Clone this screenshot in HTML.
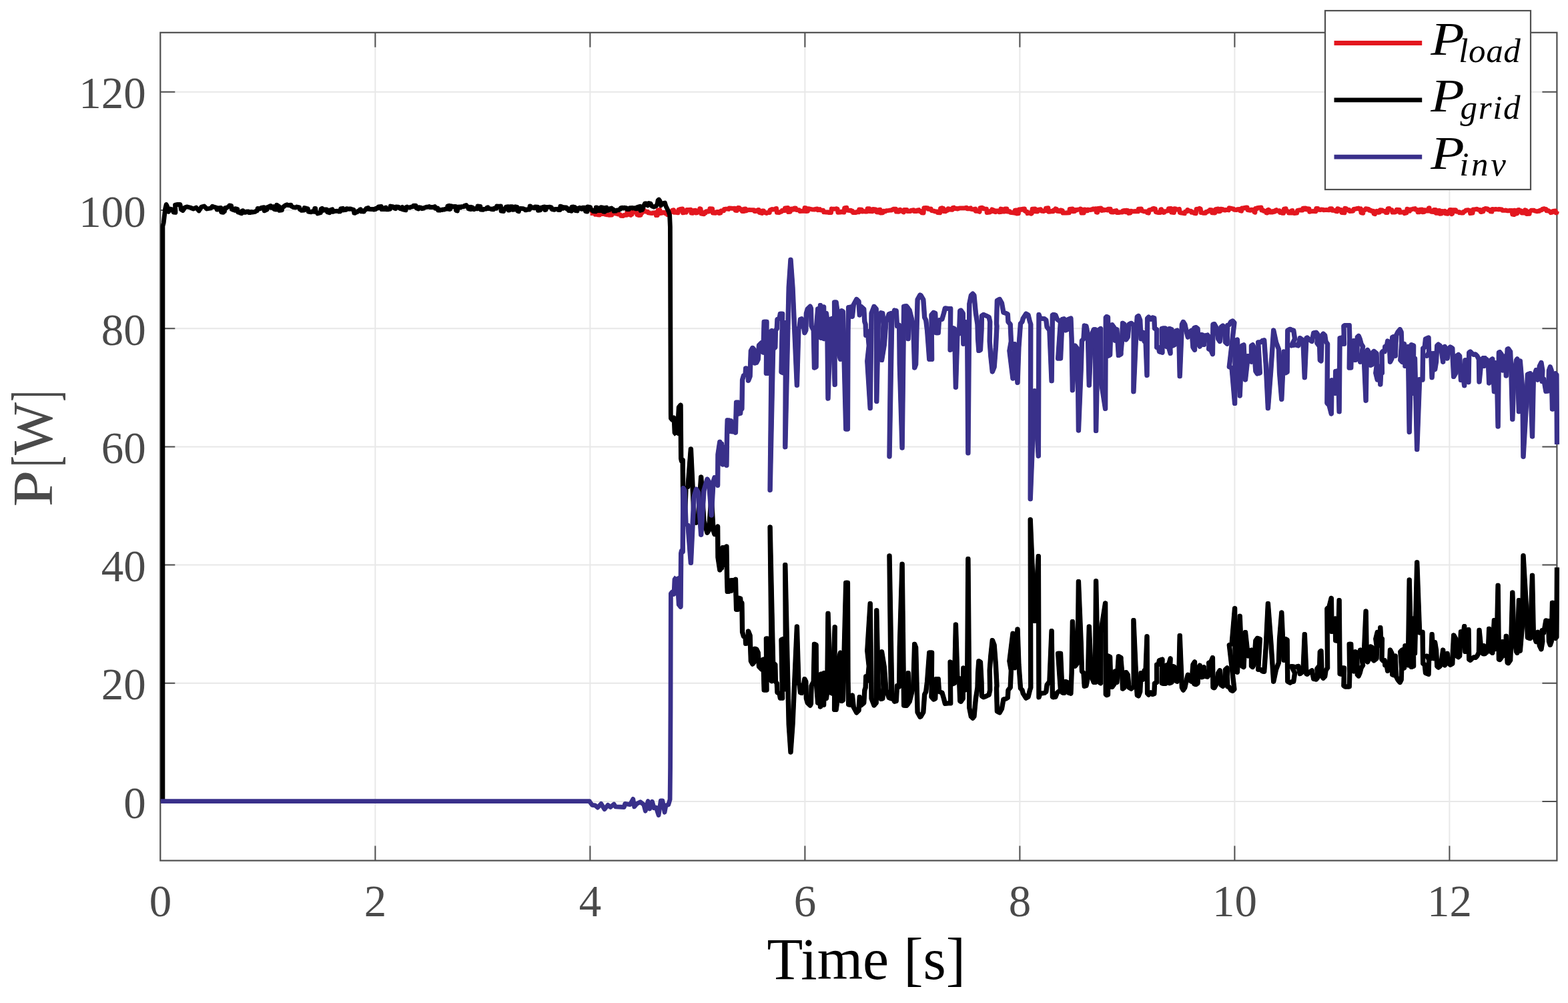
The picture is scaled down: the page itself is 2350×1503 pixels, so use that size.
<!DOCTYPE html>
<html lang="en">
<head>
<meta charset="utf-8">
<title>Power plot</title>
<style>
html,body{margin:0;padding:0;background:#fff;}
body{width:2350px;height:1503px;overflow:hidden;}
svg{display:block;}
</style>
</head>
<body>
<svg width="2350" height="1503" viewBox="0 0 2350 1503">
<rect x="0" y="0" width="2350" height="1503" fill="#fff"/>
<path d="M562.4 48.8V1289.6 M884.4 48.8V1289.6 M1206.4 48.8V1289.6 M1528.4 48.8V1289.6 M1850.4 48.8V1289.6 M2172.4 48.8V1289.6 M240.3 1201.0H2333.4 M240.3 1023.8H2333.4 M240.3 846.6H2333.4 M240.3 669.4H2333.4 M240.3 492.2H2333.4 M240.3 315.0H2333.4 M240.3 137.8H2333.4" stroke="#e8e8e8" stroke-width="2" fill="none"/>
<path d="M562.4 1289.6v-22M562.4 48.8v22 M884.4 1289.6v-22M884.4 48.8v22 M1206.4 1289.6v-22M1206.4 48.8v22 M1528.4 1289.6v-22M1528.4 48.8v22 M1850.4 1289.6v-22M1850.4 48.8v22 M2172.4 1289.6v-22M2172.4 48.8v22 M240.3 1201.0h22M2333.4 1201.0h-22 M240.3 1023.8h22M2333.4 1023.8h-22 M240.3 846.6h22M2333.4 846.6h-22 M240.3 669.4h22M2333.4 669.4h-22 M240.3 492.2h22M2333.4 492.2h-22 M240.3 315.0h22M2333.4 315.0h-22 M240.3 137.8h22M2333.4 137.8h-22" stroke="#4f4f4f" stroke-width="2" fill="none"/>
<rect x="240.3" y="48.8" width="2093.1" height="1240.8" fill="none" stroke="#4f4f4f" stroke-width="2.2"/>
<clipPath id="c"><rect x="240.3" y="48.8" width="2097.1" height="1240.8"/></clipPath>
<g clip-path="url(#c)">
<polyline points="884.9,319.3 887.2,319.6 887.8,314.8 889.1,315.3 889.7,316.6 891.6,317.3 892.2,321.4 894.9,321.1 895.5,321.8 898.8,322.0 899.4,320.4 903.0,320.7 903.6,315.6 905.7,316.1 906.3,321.1 909.0,321.6 909.6,321.8 912.1,321.7 912.7,322.4 917.0,322.0 917.6,317.3 919.1,317.5 919.7,319.6 921.8,319.4 922.4,320.2 924.7,320.2 925.3,320.9 929.5,321.4 930.1,323.3 934.2,323.5 934.8,322.4 939.3,322.3 939.9,316.8 943.4,316.5 944.0,321.8 945.3,322.4 945.9,321.4 947.2,321.3 947.8,317.5 949.3,317.9 949.9,315.6 954.1,315.8 954.7,322.0 956.9,322.4 957.5,322.7 960.3,322.3 960.9,319.4 962.2,319.2 962.8,315.8 966.0,315.3 966.6,317.1 970.7,317.1 971.3,318.9 973.9,319.2 974.5,319.3 977.7,319.6 978.3,319.1 982.7,318.7 983.3,322.7 985.4,322.6 986.0,315.0 988.9,314.3 989.5,319.7 992.7,319.1 993.3,318.3 996.6,318.3 997.2,319.9 999.5,319.2 1000.1,321.7 1003.5,321.1 1004.1,318.4 1006.8,317.4 1007.4,315.2 1009.7,314.6 1010.3,318.3 1012.6,317.9 1013.2,318.3 1016.3,318.8 1016.9,314.1 1018.7,313.9 1019.3,313.3 1022.8,312.9 1023.4,318.8 1025.6,318.6 1026.2,317.6 1028.5,318.2 1029.1,314.5 1031.7,314.3 1032.3,314.4 1035.2,314.1 1035.8,319.2 1037.8,319.4 1038.4,315.6 1042.3,315.2 1042.9,319.1 1044.9,318.9 1045.5,316.0 1048.1,316.3 1048.7,312.6 1050.2,313.0 1050.8,320.2 1055.0,320.9 1055.6,318.5 1057.4,319.0 1058.0,316.9 1061.4,316.3 1062.0,317.1 1063.2,316.8 1063.8,312.7 1067.7,313.0 1068.3,319.2 1072.6,319.3 1073.2,318.0 1074.2,317.6 1074.8,317.4 1076.9,317.4 1077.5,319.5 1080.0,319.2 1080.6,315.8 1084.7,315.9 1085.3,313.4 1087.5,313.3 1088.1,313.0 1092.1,313.5 1092.7,311.9 1096.6,312.2 1097.2,312.4 1101.4,312.2 1102.0,315.4 1104.5,315.5 1105.1,311.9 1106.1,311.3 1106.7,311.8 1108.1,311.4 1108.7,313.8 1111.5,313.7 1112.1,316.5 1114.4,316.7 1115.0,313.1 1117.3,312.9 1117.9,316.0 1119.3,315.5 1119.9,314.6 1121.6,314.6 1122.2,314.5 1126.0,314.6 1126.6,314.6 1129.9,314.7 1130.5,316.5 1133.0,316.5 1133.6,315.3 1135.4,315.5 1136.0,314.4 1137.3,314.4 1137.9,318.4 1142.1,319.6 1142.7,315.8 1144.6,316.0 1145.2,318.2 1149.1,319.5 1149.7,318.7 1153.4,318.6 1154.0,314.6 1157.1,313.5 1157.7,314.1 1161.5,313.4 1162.1,312.6 1163.7,312.5 1164.3,318.4 1167.8,318.7 1168.4,317.8 1171.4,317.2 1172.0,315.5 1175.8,315.7 1176.4,311.9 1180.8,311.5 1181.4,317.7 1184.4,317.3 1185.0,313.1 1186.6,313.0 1187.2,314.3 1189.6,314.2 1190.2,311.9 1192.7,312.0 1193.3,314.6 1197.8,314.7 1198.4,316.5 1202.1,316.3 1202.7,316.0 1205.4,316.3 1206.0,311.5 1207.6,311.6 1208.2,316.5 1210.8,316.3 1211.4,312.7 1213.3,312.9 1213.9,313.1 1216.1,313.5 1216.7,313.8 1221.1,314.0 1221.7,313.4 1224.8,312.9 1225.4,314.8 1226.5,314.7 1227.1,313.8 1228.7,313.5 1229.3,314.8 1233.9,315.2 1234.5,317.9 1237.2,317.8 1237.8,318.0 1241.4,317.8 1242.0,318.7 1245.6,318.6 1246.2,313.0 1248.0,313.6 1248.6,313.1 1252.7,312.8 1253.3,312.7 1255.2,313.0 1255.8,318.3 1259.9,318.2 1260.5,317.2 1263.0,316.8 1263.6,318.1 1265.0,318.2 1265.6,311.6 1269.0,311.2 1269.6,315.1 1272.2,315.5 1272.8,315.5 1275.2,315.1 1275.8,316.5 1277.8,316.2 1278.4,318.6 1282.6,318.7 1283.2,317.7 1287.0,317.9 1287.6,313.9 1291.5,314.1 1292.1,317.0 1296.5,316.7 1297.1,317.1 1299.4,317.1 1300.0,312.7 1303.0,312.6 1303.6,316.7 1307.8,316.8 1308.4,313.3 1312.8,313.9 1313.4,317.8 1316.4,318.0 1317.0,314.4 1319.1,314.1 1319.7,319.2 1323.3,318.8 1323.9,316.1 1325.8,316.4 1326.4,316.9 1327.6,316.5 1328.2,315.6 1332.0,315.3 1332.6,315.2 1336.3,315.2 1336.9,314.1 1338.3,314.3 1338.9,313.2 1342.6,313.1 1343.2,317.2 1347.1,317.3 1347.7,314.5 1349.2,314.2 1349.8,315.9 1352.7,316.1 1353.3,317.6 1354.4,318.0 1355.0,314.3 1359.4,314.5 1360.0,316.7 1364.6,316.6 1365.2,315.3 1369.3,314.7 1369.9,316.7 1373.6,316.7 1374.2,315.1 1377.1,314.5 1377.7,316.5 1380.5,316.3 1381.1,318.8 1384.2,319.0 1384.8,311.6 1388.0,311.3 1388.6,311.6 1390.4,311.6 1391.0,313.4 1395.4,312.9 1396.0,315.6 1400.1,316.2 1400.7,316.8 1404.3,316.9 1404.9,318.6 1408.8,318.9 1409.4,312.2 1412.1,311.6 1412.7,312.8 1414.0,312.4 1414.6,316.7 1417.4,316.8 1418.0,314.8 1420.1,315.2 1420.7,312.6 1423.1,313.1 1423.7,314.1 1427.3,314.3 1427.9,311.3 1429.7,311.0 1430.3,312.5 1434.1,312.5 1434.7,313.1 1436.4,312.7 1437.0,312.3 1438.1,311.9 1438.7,311.9 1441.5,311.8 1442.1,311.8 1445.6,311.8 1446.2,311.7 1448.7,311.2 1449.3,312.8 1452.0,312.9 1452.6,312.4 1454.8,311.8 1455.4,313.5 1459.0,314.0 1459.6,313.3 1461.7,313.0 1462.3,316.3 1466.3,316.2 1466.9,316.8 1468.2,317.4 1468.8,311.6 1471.9,311.1 1472.5,311.8 1473.7,311.9 1474.3,312.9 1478.5,313.2 1479.1,318.6 1483.4,318.2 1484.0,316.2 1486.1,316.8 1486.7,313.8 1488.0,314.3 1488.6,314.6 1490.0,315.2 1490.6,317.4 1492.3,317.7 1492.9,316.0 1496.9,316.0 1497.5,317.8 1499.3,317.7 1499.9,313.0 1501.9,313.3 1502.5,317.2 1505.6,317.1 1506.2,312.9 1509.0,312.9 1509.6,317.1 1513.3,316.6 1513.9,318.4 1515.8,318.6 1516.4,318.6 1520.5,319.2 1521.1,315.1 1523.3,314.9 1523.9,320.0 1526.4,319.9 1527.0,313.9 1530.0,313.6 1530.6,314.2 1531.8,314.4 1532.4,313.1 1535.5,312.9 1536.1,316.5 1539.1,317.1 1539.7,319.7 1542.9,318.9 1543.5,319.5 1544.8,318.8 1545.4,320.3 1546.5,319.7 1547.1,313.1 1551.3,313.0 1551.9,316.9 1555.1,317.0 1555.7,314.3 1559.8,313.6 1560.4,316.0 1564.5,316.5 1565.1,315.7 1566.8,315.7 1567.4,312.1 1571.0,311.6 1571.6,317.3 1574.6,317.2 1575.2,316.3 1578.5,316.9 1579.1,314.9 1581.3,314.3 1581.9,312.8 1583.7,313.2 1584.3,316.3 1588.9,316.9 1589.5,314.9 1592.4,315.6 1593.0,319.2 1597.3,319.1 1597.9,319.0 1602.5,318.8 1603.1,313.3 1607.4,313.0 1608.0,316.8 1610.9,316.5 1611.5,314.5 1614.0,314.8 1614.6,314.1 1618.3,313.8 1618.9,312.8 1620.2,313.0 1620.8,319.1 1624.3,319.0 1624.9,314.0 1626.5,314.0 1627.1,315.9 1630.0,315.8 1630.6,314.0 1634.7,314.6 1635.3,313.9 1637.3,314.2 1637.9,313.0 1639.0,313.0 1639.6,313.3 1642.5,312.7 1643.1,318.0 1644.8,318.4 1645.4,312.3 1650.0,312.0 1650.6,315.4 1651.6,315.5 1652.2,314.5 1653.6,314.0 1654.2,315.1 1658.0,314.4 1658.6,314.7 1659.8,315.1 1660.4,313.2 1664.3,313.1 1664.9,317.8 1668.6,318.1 1669.2,316.3 1673.2,315.5 1673.8,318.7 1677.2,318.7 1677.8,317.9 1682.1,318.2 1682.7,315.8 1685.2,315.5 1685.8,317.2 1687.4,317.8 1688.0,315.1 1691.0,315.5 1691.6,319.5 1694.2,319.1 1694.8,316.1 1697.0,316.5 1697.6,316.9 1701.9,316.5 1702.5,316.6 1705.6,316.9 1706.2,313.1 1710.5,313.0 1711.1,316.0 1713.4,316.3 1714.0,316.8 1718.5,316.8 1719.1,318.6 1721.5,319.2 1722.1,314.7 1726.5,314.1 1727.1,312.7 1729.1,312.2 1729.7,313.3 1731.5,312.9 1732.1,317.7 1735.0,318.4 1735.6,318.6 1738.9,318.7 1739.5,313.8 1740.7,313.6 1741.3,315.7 1743.3,316.2 1743.9,318.5 1745.4,318.1 1746.0,316.6 1750.6,316.0 1751.2,312.7 1754.9,312.3 1755.5,318.1 1759.5,318.6 1760.1,312.6 1762.4,312.9 1763.0,314.3 1767.6,313.3 1768.2,318.7 1770.5,319.1 1771.1,319.1 1775.7,319.8 1776.3,317.1 1779.0,316.9 1779.6,314.4 1780.7,314.7 1781.3,316.2 1785.1,316.2 1785.7,318.4 1788.6,318.1 1789.2,319.3 1792.4,319.8 1793.0,313.3 1797.0,312.9 1797.6,312.3 1799.3,312.9 1799.9,318.7 1802.4,318.9 1803.0,319.4 1806.8,319.4 1807.4,317.4 1810.3,317.3 1810.9,316.1 1812.5,316.0 1813.1,314.5 1815.9,314.6 1816.5,318.8 1821.0,319.0 1821.6,313.5 1825.6,312.9 1826.2,316.8 1829.0,316.5 1829.6,313.1 1832.9,313.6 1833.5,314.6 1836.2,315.2 1836.8,314.4 1839.7,314.7 1840.3,314.4 1841.5,314.9 1842.1,311.7 1845.9,312.3 1846.5,312.9 1848.8,312.8 1849.4,314.4 1853.6,314.6 1854.2,313.6 1857.8,313.4 1858.4,315.8 1860.7,316.3 1861.3,311.9 1864.4,312.0 1865.0,311.4 1866.5,311.1 1867.1,310.9 1869.2,310.9 1869.8,314.7 1874.1,315.3 1874.7,314.2 1879.0,314.5 1879.6,317.7 1881.0,318.3 1881.6,312.5 1883.6,312.9 1884.2,311.7 1887.4,311.1 1888.0,311.1 1890.2,310.8 1890.8,315.1 1893.2,315.0 1893.8,316.3 1897.1,316.3 1897.7,318.9 1899.1,319.1 1899.7,314.7 1901.0,314.3 1901.6,315.1 1902.6,315.1 1903.2,318.0 1907.4,318.1 1908.0,316.5 1910.5,317.2 1911.1,315.3 1912.8,314.6 1913.4,316.2 1917.8,315.6 1918.4,318.5 1921.1,318.5 1921.7,319.4 1923.7,319.4 1924.3,313.1 1927.2,312.7 1927.8,316.4 1930.7,316.6 1931.3,319.1 1935.1,319.1 1935.7,315.7 1936.9,315.5 1937.5,319.1 1939.2,318.8 1939.8,319.6 1943.8,319.2 1944.4,315.4 1948.7,314.6 1949.3,315.1 1952.1,315.2 1952.7,312.2 1956.7,311.9 1957.3,313.9 1959.2,314.1 1959.8,312.7 1962.0,312.8 1962.6,317.3 1964.5,317.0 1965.1,316.6 1968.5,316.5 1969.1,316.6 1972.0,316.8 1972.6,312.5 1975.2,312.5 1975.8,314.2 1978.9,314.7 1979.5,313.8 1983.0,314.2 1983.6,314.8 1988.1,314.3 1988.7,314.6 1992.3,314.8 1992.9,312.7 1996.0,312.6 1996.6,315.4 2000.7,315.3 2001.3,316.3 2004.0,316.8 2004.6,312.6 2006.4,313.0 2007.0,314.4 2010.0,314.5 2010.6,318.6 2015.1,318.9 2015.7,312.2 2017.8,312.5 2018.4,314.9 2022.0,314.5 2022.6,316.5 2026.1,316.3 2026.7,316.3 2028.1,316.1 2028.7,313.3 2032.3,313.0 2032.9,312.6 2036.0,312.0 2036.6,313.2 2039.3,312.8 2039.9,318.9 2042.9,319.3 2043.5,314.8 2046.3,314.6 2046.9,312.7 2051.3,313.3 2051.9,315.3 2054.6,315.2 2055.2,316.3 2058.3,316.2 2058.9,320.3 2060.7,320.8 2061.3,318.1 2062.7,318.4 2063.3,316.2 2065.1,316.7 2065.7,318.5 2067.8,318.1 2068.4,314.6 2071.8,315.0 2072.4,316.4 2076.1,316.5 2076.7,318.6 2079.3,318.7 2079.9,312.7 2082.3,312.3 2082.9,314.0 2086.2,314.7 2086.8,318.2 2090.8,318.1 2091.4,316.9 2092.6,317.2 2093.2,314.1 2097.5,314.5 2098.1,318.4 2100.8,318.2 2101.4,318.1 2104.4,317.7 2105.0,319.8 2108.2,319.0 2108.8,313.1 2109.9,313.3 2110.5,315.8 2112.9,316.2 2113.5,314.0 2116.7,313.7 2117.3,313.2 2120.8,312.5 2121.4,314.3 2124.3,314.5 2124.9,317.9 2127.3,317.8 2127.9,314.1 2131.3,313.8 2131.9,317.8 2134.5,317.6 2135.1,314.7 2136.9,314.8 2137.5,316.2 2140.5,316.0 2141.1,311.8 2142.2,311.6 2142.8,316.0 2144.5,316.2 2145.1,317.4 2148.5,317.6 2149.1,314.3 2151.6,314.4 2152.2,319.3 2153.6,319.4 2154.2,315.6 2157.4,315.5 2158.0,320.3 2160.3,320.1 2160.9,316.5 2163.7,316.6 2164.3,316.7 2165.4,316.2 2166.0,319.9 2169.5,320.3 2170.1,317.0 2172.2,316.7 2172.8,314.3 2174.9,314.4 2175.5,320.8 2176.8,320.2 2177.4,314.7 2181.9,314.7 2182.5,317.2 2186.3,317.6 2186.9,318.8 2188.2,318.1 2188.8,318.7 2190.0,319.2 2190.6,319.0 2193.1,319.0 2193.7,317.0 2196.1,316.6 2196.7,315.2 2200.4,314.6 2201.0,315.3 2202.9,315.3 2203.5,319.7 2207.2,319.2 2207.8,313.8 2209.0,313.9 2209.6,313.8 2212.8,313.3 2213.4,313.2 2214.8,313.7 2215.4,314.4 2218.4,314.3 2219.0,317.4 2220.1,317.7 2220.7,317.3 2223.0,317.0 2223.6,313.4 2225.4,313.6 2226.0,312.4 2229.7,312.8 2230.3,314.7 2233.0,314.4 2233.6,316.9 2236.0,317.2 2236.6,313.4 2240.9,313.9 2241.5,313.3 2246.0,314.0 2246.6,313.5 2250.9,314.0 2251.5,315.3 2255.9,315.4 2256.5,315.0 2258.0,315.4 2258.6,315.9 2261.1,315.9 2261.7,315.5 2266.0,315.4 2266.6,321.2 2269.0,321.6 2269.6,315.2 2271.5,315.6 2272.1,320.3 2273.9,319.9 2274.5,314.7 2276.6,314.5 2277.2,315.3 2280.1,315.9 2280.7,319.1 2285.0,319.0 2285.6,314.7 2287.4,315.2 2288.0,320.5 2292.2,320.4 2292.8,316.6 2294.2,316.0 2294.8,315.2 2299.1,315.2 2299.7,316.0 2304.0,316.8 2304.6,316.5 2307.0,316.4 2307.6,315.4 2310.8,314.6 2311.4,313.3 2314.5,312.6 2315.1,313.7 2317.2,313.4 2317.8,315.9 2320.8,315.7 2321.4,316.5 2323.4,316.8 2324.0,318.7 2326.6,318.2 2327.2,316.3 2331.3,316.0 2331.9,318.9 2333.1,318.7 2333.4,316.5" fill="none" stroke="#e3171f" stroke-width="6.8" stroke-linejoin="round" stroke-linecap="butt"/>
<polyline points="243.9,1201.0 243.9,339.0 245.2,334.0 247.6,313.0 249.2,306.4 250.5,309.0 252.4,317.4 255.0,313.0 258.5,314.0 260.0,318.0 263.0,318.3 262.5,307.0 266.0,306.4 270.0,306.5 271.5,314.0 274.0,315.5 277.0,311.0 280.0,309.8 285.0,311.0 290.0,313.0 294.0,311.0 298.0,316.0 302.0,310.0 306.0,309.0 310.0,313.0 316.0,312.0 318.3,309.3 321.6,310.4 322.2,310.5 324.6,311.3 325.2,314.2 326.3,314.1 326.9,311.9 330.9,311.4 331.5,317.8 334.7,318.3 335.3,317.1 336.5,316.8 337.1,311.6 338.6,311.4 339.2,311.9 343.2,308.9 343.8,307.8 346.7,308.3 347.3,313.7 349.1,314.4 349.7,314.1 351.8,315.3 352.4,312.7 355.9,313.3 356.5,317.9 359.4,318.6 360.0,319.2 362.0,319.8 362.6,316.0 364.2,315.7 364.8,318.4 368.2,318.3 368.8,317.2 372.3,317.0 372.9,318.6 375.5,318.6 376.1,317.4 377.4,317.4 378.0,318.1 382.5,317.4 383.1,316.5 385.5,315.7 386.1,312.5 388.8,312.6 389.4,312.8 390.9,312.5 391.5,311.3 395.6,310.7 396.2,315.8 400.1,314.1 400.7,310.5 403.2,309.7 403.8,309.1 405.5,308.5 406.1,311.4 408.8,310.7 409.4,309.7 410.4,309.6 411.0,313.7 414.1,314.0 414.7,307.1 418.1,309.4 418.7,315.4 422.5,314.9 423.1,310.8 425.5,309.7 426.1,308.7 427.4,308.2 428.0,307.4 430.2,306.6 430.8,307.5 432.3,307.7 432.9,307.5 436.1,307.2 436.7,309.2 439.0,310.1 439.6,310.6 442.3,311.0 442.9,310.6 444.2,310.8 444.8,310.0 448.8,310.9 449.4,313.8 451.0,314.6 451.6,315.3 455.7,315.1 456.3,311.5 458.6,312.0 459.2,312.2 461.4,312.8 462.0,317.1 466.5,317.9 467.1,316.8 471.1,317.3 471.7,312.3 472.8,312.3 473.4,317.6 475.3,318.5 475.9,320.0 480.5,318.8 481.1,313.3 482.8,312.3 483.4,315.4 485.2,315.3 485.8,313.8 489.8,314.0 490.4,317.7 493.8,318.7 494.4,315.0 498.1,313.8 498.7,317.4 502.6,316.3 503.2,316.3 505.6,316.2 506.2,316.4 507.8,317.0 508.4,316.2 509.9,316.9 510.5,312.9 513.9,312.3 514.5,315.0 518.9,314.3 519.5,312.6 523.9,313.4 524.5,312.9 526.4,313.2 527.0,313.5 530.1,314.2 530.7,319.2 532.2,319.4 532.8,317.3 535.4,317.8 536.0,316.6 538.9,315.2 539.5,314.1 540.5,313.8 541.1,316.9 542.1,316.8 542.7,316.8 545.4,317.1 546.0,315.3 548.2,314.2 548.8,312.5 551.8,311.4 552.4,313.4 556.2,313.5 556.8,313.7 559.4,313.5 560.0,314.1 562.8,313.7 563.4,312.1 566.4,312.0 567.0,309.9 571.4,309.5 572.0,313.7 576.4,313.7 577.0,311.3 578.4,310.9 579.0,313.9 582.4,313.9 583.0,312.8 584.6,313.2 585.2,309.0 589.6,309.9 590.2,311.5 592.7,312.7 593.3,309.8 597.3,310.2 597.9,311.5 599.6,311.5 600.2,312.9 601.2,312.6 601.8,311.0 602.9,310.3 603.5,314.0 608.1,314.8 608.7,310.4 610.0,310.0 610.6,310.6 614.4,311.0 615.0,310.3 619.0,309.6 619.6,308.2 623.1,308.2 623.7,311.5 627.2,313.0 627.8,310.6 631.7,311.4 632.3,312.7 634.9,312.2 635.5,311.5 639.8,310.1 640.4,310.3 643.3,309.5 643.9,310.6 645.7,310.4 646.3,310.5 650.0,310.3 650.6,310.1 651.7,309.5 652.3,312.3 655.9,311.9 656.5,315.1 659.2,315.2 659.8,314.5 662.6,314.7 663.2,313.8 666.0,314.1 666.6,313.3 670.2,313.0 670.8,308.7 673.0,308.2 673.6,313.7 674.9,313.3 675.5,308.7 677.1,308.9 677.7,309.9 679.7,309.7 680.3,309.3 682.9,309.3 683.5,315.4 685.5,316.0 686.1,310.1 689.0,309.9 689.6,311.1 690.6,311.0 691.2,309.6 694.1,309.5 694.7,309.9 695.7,309.3 696.3,308.2 698.7,307.4 699.3,309.4 701.4,309.7 702.0,313.0 705.4,313.6 706.0,310.3 708.4,311.0 709.0,313.4 710.5,313.8 711.1,312.7 715.3,312.9 715.9,309.0 719.9,309.3 720.5,314.0 724.3,314.4 724.9,313.3 729.2,313.0 729.8,311.2 731.2,310.7 731.8,312.7 735.9,312.8 736.5,313.6 739.7,313.9 740.3,312.2 744.0,312.3 744.6,309.0 748.0,309.3 748.6,309.1 750.5,309.0 751.1,316.1 754.7,316.5 755.3,312.9 757.7,313.2 758.3,310.1 761.6,309.7 762.2,315.0 764.1,314.8 764.7,309.6 767.8,309.6 768.4,314.3 771.9,313.9 772.5,309.8 775.2,310.4 775.8,316.3 777.5,316.8 778.1,312.5 779.1,312.9 779.7,312.4 784.2,312.7 784.8,313.1 786.6,313.5 787.2,314.8 788.7,314.9 789.3,314.0 793.5,314.1 794.1,309.0 795.1,309.0 795.7,311.3 798.4,311.0 799.0,311.5 801.2,311.8 801.8,310.0 805.8,310.1 806.4,315.3 810.0,314.8 810.6,311.2 812.9,311.0 813.5,310.3 816.1,309.9 816.7,314.6 818.0,314.4 818.6,310.3 823.0,310.3 823.6,310.1 826.5,310.8 827.1,313.6 831.0,314.4 831.6,313.3 836.0,313.4 836.6,314.6 839.2,314.6 839.8,309.2 841.8,309.5 842.4,312.1 843.9,312.4 844.5,310.6 849.0,311.0 849.6,313.1 851.7,312.7 852.3,315.7 854.0,315.7 854.6,315.7 856.4,316.3 857.0,310.1 859.6,309.9 860.2,310.8 861.6,310.5 862.2,315.6 865.2,316.0 865.8,312.2 868.3,312.1 868.9,311.3 870.1,311.9 870.7,313.1 872.2,313.3 872.8,311.1 876.9,311.1 877.5,316.6 880.1,317.1 880.7,309.8 884.8,310.5 885.4,314.3 888.1,315.0 888.7,316.5 892.7,316.9 893.3,310.8 895.2,311.1 895.8,315.5 900.2,315.6 900.8,310.6 903.8,311.0 904.4,317.2 906.2,317.4 906.8,311.3 908.9,311.0 909.5,315.6 912.8,315.2 913.4,312.8 916.5,311.9 917.1,313.1 919.2,313.8 919.8,316.4 923.1,316.2 923.7,315.2 928.2,314.7 928.8,313.4 929.8,313.5 930.4,311.5 932.9,311.1 933.5,312.1 934.7,312.0 935.3,311.1 938.7,311.7 939.3,313.6 943.0,313.5 943.6,311.7 947.5,311.3 948.1,312.1 951.9,311.5 952.5,312.8 954.3,312.9 954.9,310.6 959.3,309.2 959.9,315.3 961.7,314.3 962.3,314.0 962.7,314.4 965.0,308.0 966.5,305.0 969.0,305.0 971.0,308.0 972.5,304.5 975.0,305.0 977.0,309.0 980.0,310.0 983.0,309.0 985.0,306.0 986.0,300.5 987.5,299.0 989.0,301.0 990.5,308.0 992.0,306.0 994.0,304.5 996.5,304.0 998.0,309.0 1000.0,313.0 1002.0,317.0 1003.6,322.0 1004.4,340.0 1004.8,480.0 1005.3,620.0 1005.4,626.8 1007.5,629.3 1010.0,625.8 1011.0,648.3 1013.7,651.7" fill="none" stroke="#000000" stroke-width="6.8" stroke-linejoin="round" stroke-linecap="butt"/>
<polyline points="1013.4,651.7 1015.2,648.3 1017.2,610.3 1019.7,607.0 1020.4,686.8 1021.2,690.8 1022.9,689.3 1023.7,784.9 1025.7,781.3 1027.7,731.3 1030.7,729.3 1035.1,672.8 1039.7,771.3 1043.2,783.3 1046.2,778.3 1050.4,715.0 1054.7,781.3 1059.7,798.3 1062.2,794.3 1065.9,744.3 1068.7,794.3 1070.7,800.8 1072.7,798.3 1075.3,788.9 1075.7,835.3 1078.5,854.1 1079.7,822.3 1081.2,851.3 1083.0,820.3 1084.2,846.3 1085.4,820.9 1087.2,841.3 1088.6,818.9 1089.3,866.8 1089.9,886.6 1091.2,870.5 1092.5,886.3 1094.0,869.9 1095.3,885.6 1096.8,869.5 1098.2,882.2 1098.9,869.4 1100.1,880.8 1102.1,868.1 1102.7,892.4 1103.3,913.5 1104.6,897.4 1105.9,913.3 1107.2,896.2 1108.4,911.4 1109.3,896.9 1110.4,908.9 1111.6,903.3 1112.3,947.2 1114.2,953.6 1116.8,954.9 1117.4,964.5 1120.6,963.8 1121.2,945.9 1123.8,952.3 1124.4,971.5 1125.1,990.6 1127.6,995.1 1130.2,991.9 1130.8,972.1 1133.4,972.8 1135.9,977.9 1137.2,998.9 1141.0,1002.8 1141.7,989.4 1143.6,988.1 1144.9,1034.1 1148.7,1034.1 1148.1,956.8 1150.0,956.8 1150.6,995.8 1152.5,995.8 1153.8,1018.8 1156.4,1020.7 1153.8,790.0 1158.3,993.2 1161.5,995.8 1162.1,1021.3 1164.0,1023.9 1164.7,1037.9 1167.9,1039.2 1169.1,1046.2 1172.3,1046.2 1170.7,958.7 1173.6,957.4 1174.9,1032.8 1177.4,1032.8 1176.5,846.4 1181.9,1085.2 1184.7,1127.1 1187.7,1085.2 1194.1,939.0 1196.6,1023.9 1197.9,1026.4 1199.2,1037.9 1201.1,1038.6 1203.0,1034.1 1205.6,1017.5 1207.5,1021.3 1208.1,1046.9 1210.0,1053.3 1213.9,1057.1 1215.1,1054.5 1215.8,1027.7 1219.0,1021.3 1220.2,965.1 1222.8,966.4 1223.4,1027.7 1225.4,1053.3 1226.6,1011.1 1229.2,1059.0 1230.5,1009.8 1234.3,1056.4 1234.9,1008.5 1238.1,1046.9 1239.4,1036.6 1240.7,919.2 1244.5,1037.9 1247.1,1039.2 1250.9,939.7 1250.3,1063.5 1252.8,1063.5 1255.4,1044.3 1256.7,986.8 1259.2,977.9 1261.1,1050.7 1263.0,1049.4 1267.5,873.2 1270.1,873.2 1270.7,1021.3 1271.4,1055.8 1275.2,1056.4 1277.1,1041.8 1279.0,1059.6 1283.5,1067.9 1286.7,1064.7 1288.0,1044.3 1289.9,1057.1 1294.4,1053.3 1295.6,1034.1 1296.9,1030.3 1297.5,1013.6 1300.1,1020.0 1302.0,998.3 1299.5,975.3 1303.9,904.5 1305.8,1046.9 1309.7,1057.1 1312.9,1053.3 1313.5,914.7 1316.1,1036.6 1319.9,1047.5 1322.5,1046.9 1323.7,1030.3 1321.2,976.6 1325.0,999.6 1327.6,1034.1 1328.8,1036.6 1332.0,1045.6 1335.2,1046.9 1332.7,832.9 1336.5,1039.2 1340.3,1051.3 1342.9,1050.7 1344.2,1027.7 1347.4,1029.0 1348.0,970.2 1351.8,845.1 1354.4,1057.1 1358.2,1057.7 1360.8,1054.5 1360.8,1008.5 1362.7,1052.0 1365.9,1039.2 1368.5,1027.7 1370.4,965.1 1372.3,970.2 1374.8,1067.3 1378.7,1074.3 1379.7,1073.7 1383.5,1067.3 1385.4,1040.5 1387.4,1036.6 1389.3,1021.3 1392.5,977.9 1396.3,977.9 1395.7,1044.3 1398.9,1048.1 1401.4,1046.9 1402.7,1017.5 1405.9,1017.5 1407.2,1036.6 1411.6,1037.9 1414.2,1046.9 1416.1,1054.5 1420.6,1053.9 1424.4,1053.9 1423.8,991.9 1426.3,993.2 1427.0,1025.1 1430.2,1023.9 1432.1,935.8 1434.6,1014.9 1437.2,1016.2 1438.5,1050.7 1439.8,1051.3 1442.9,1046.9 1443.6,1000.9 1445.5,1002.1 1446.1,1034.1 1449.3,1031.5 1450.6,837.4 1452.5,1060.9 1455.1,1073.7 1457.6,1076.2 1459.6,1073.7 1462.1,1046.9 1464.7,1030.3 1465.3,1008.5 1466.6,990.6 1469.1,991.9 1470.7,1021.3 1471.1,1043.0 1473.6,1044.9 1478.1,1043.0 1481.9,1041.1 1483.4,1034.1 1482.9,1004.7 1484.5,983.0 1487.0,959.3 1489.8,966.4 1492.1,995.8 1493.7,1027.7 1493.2,1031.5 1494.1,1066.0 1497.9,1067.9 1501.1,1062.2 1503.6,1048.1 1507.5,1046.9 1510.0,1045.6 1510.7,1034.1 1513.9,1030.3 1515.1,1004.7 1512.6,990.6 1517.7,949.2 1520.2,1000.9 1524.7,942.9 1526.6,995.8 1529.2,1031.5 1531.7,1034.1 1533.0,1039.2 1537.5,1046.2 1540.7,1044.3 1543.2,1034.1 1544.5,1030.3 1543.9,778.6 1550.3,930.7 1556.0,833.5 1556.7,1044.9 1558.6,1039.2 1565.0,1038.6 1567.5,1036.6 1568.8,1026.4 1572.6,1021.3 1575.8,945.4 1577.1,1044.3 1578.4,1044.9 1581.6,1044.3 1584.1,1037.9 1589.2,1034.1 1585.4,979.1 1589.2,979.1 1591.8,1037.9 1594.4,1038.6 1596.9,1021.3 1599.5,1022.6 1600.7,1037.9 1604.6,1039.2 1605.8,1008.5 1607.1,931.4 1611.0,998.3 1614.8,993.2 1616.1,871.3 1619.9,963.8 1621.2,1006.0 1623.7,1008.5 1625.0,1028.3 1627.6,1027.7 1630.1,1014.9 1632.0,939.0 1635.2,1013.6 1639.1,1022.6 1641.0,1022.6 1642.3,870.7 1645.5,1021.3 1649.3,1023.9 1649.3,948.6 1656.3,903.9 1657.0,1040.5 1658.2,1041.8 1660.2,1041.1 1660.8,983.0 1663.3,984.3 1664.6,1029.0 1666.5,1029.6 1669.7,1025.1 1671.0,1006.0 1673.6,1022.6 1676.1,983.6 1679.7,985.5 1679.7,989.4 1681.0,1003.4 1682.3,1032.2 1684.8,1030.3 1687.4,1007.3 1689.9,1011.1 1691.8,1030.3 1695.0,1032.2 1698.9,1029.0 1698.6,929.4 1702.7,1021.3 1704.0,1041.8 1705.9,1043.0 1708.4,1036.6 1709.7,1008.5 1711.6,1018.8 1714.2,1017.5 1714.8,1004.7 1716.8,1003.4 1718.7,953.7 1719.3,1039.2 1721.2,1041.1 1724.4,1037.9 1727.0,1040.5 1729.5,1039.8 1730.2,1023.9 1733.4,1022.6 1733.4,995.8 1735.9,995.8 1737.2,989.4 1741.7,988.1 1741.0,1023.9 1743.6,1024.5 1746.1,1024.5 1747.4,997.0 1751.3,995.8 1753.8,986.8 1752.5,1023.9 1755.7,1022.6 1757.6,998.3 1760.2,999.6 1761.5,1020.0 1764.0,1021.3 1766.6,1008.5 1767.9,952.4 1771.1,1030.3 1773.0,1034.1 1775.5,1030.3 1777.4,1021.3 1780.0,1011.1 1781.9,1018.8 1785.7,1021.3 1787.7,995.8 1790.2,991.9 1789.6,1025.1 1792.1,1025.8 1794.7,1023.9 1796.0,1000.9 1797.9,997.0 1800.4,1014.9 1802.4,1014.3 1804.3,999.6 1806.2,1013.6 1809.4,1014.3 1812.6,1009.8 1811.3,993.2 1814.5,991.9 1817.1,985.5 1817.7,1030.3 1819.6,1030.9 1822.8,1025.1 1825.4,1008.5 1827.9,1004.7 1829.8,1026.4 1832.4,1028.3 1834.9,1023.9 1836.2,1003.4 1838.8,1000.9 1839.4,1029.0 1842.0,1029.6 1844.5,1034.1 1847.1,1035.4 1849.6,1032.8 1842.0,966.4 1845.8,965.1 1850.3,911.6 1850.9,1006.0 1854.1,1007.3 1857.9,923.1 1861.1,998.3 1863.7,999.6 1866.2,947.3 1870.1,983.0 1872.6,975.3 1875.2,974.0 1875.2,998.3 1877.1,999.6 1879.0,995.8 1881.6,960.0 1884.1,956.3 1888.0,957.4 1885.4,1003.4 1889.2,1003.4 1891.8,1006.0 1894.4,1006.6 1896.9,970.2 1900.1,904.5 1904.6,963.8 1908.4,1021.3 1912.2,1003.4 1916.1,993.2 1917.3,957.4 1920.5,917.9 1923.7,989.4 1926.3,957.4 1928.8,958.7 1929.5,1021.3 1933.3,1023.2 1935.2,1021.9 1938.4,1021.3 1940.3,1008.5 1935.2,998.3 1941.6,999.6 1945.5,998.3 1948.0,1009.8 1951.2,1007.3 1953.1,995.8 1955.0,950.5 1957.6,1009.8 1958.9,1010.4 1962.1,1007.3 1965.9,1004.7 1968.5,1017.5 1972.3,1018.1 1974.8,1014.9 1973.6,1002.1 1977.4,997.0 1978.0,976.6 1979.7,975.3 1979.7,976.6 1981.0,1013.6 1982.9,1016.2 1985.4,1013.6 1986.7,1004.7 1989.3,1000.9 1988.6,912.2 1991.8,908.9 1995.0,896.2 1995.7,946.7 1998.9,944.6 2000.8,926.8 2001.4,960.0 2005.3,960.6 2006.8,899.4 2007.8,1009.8 2011.0,1010.4 2011.6,1000.9 2014.2,1000.9 2013.6,1027.7 2015.5,1029.0 2021.9,1029.0 2022.5,1008.5 2021.9,965.1 2024.4,965.1 2025.7,1004.7 2028.9,1006.0 2030.8,1004.7 2030.8,976.6 2033.4,977.9 2034.0,1011.1 2035.9,1013.0 2037.8,1008.5 2039.8,1000.9 2042.3,997.0 2038.5,974.0 2043.6,988.1 2046.8,916.0 2048.1,990.6 2049.3,991.9 2051.9,986.8 2053.8,968.9 2056.4,970.2 2057.0,988.1 2058.9,990.0 2062.7,986.8 2063.4,971.5 2061.5,957.4 2064.0,947.2 2065.3,967.6 2067.2,967.0 2068.5,940.3 2069.8,967.6 2071.1,957.4 2070.7,988.1 2072.3,990.0 2074.9,989.4 2075.5,997.0 2078.1,998.3 2079.4,1005.3 2081.9,1003.4 2083.2,974.0 2085.7,979.1 2086.4,1011.1 2088.3,1011.7 2090.9,983.0 2092.1,1013.6 2094.7,1018.8 2097.9,1022.6 2099.8,1018.8 2100.4,1002.1 2098.5,976.6 2101.1,974.0 2102.4,999.6 2104.3,1000.9 2104.9,971.5 2106.2,995.8 2105.6,967.6 2107.5,995.8 2110.0,997.0 2111.9,868.8 2115.1,999.6 2118.3,998.3 2117.7,926.8 2120.2,979.1 2123.4,842.6 2127.3,948.0 2131.7,947.2 2132.4,994.5 2134.9,995.8 2136.2,1008.5 2140.7,1010.4 2141.3,988.1 2138.1,983.0 2144.5,986.8 2145.8,950.5 2148.4,986.8 2150.3,962.5 2152.2,974.0 2153.5,998.3 2155.4,1000.2 2157.9,998.3 2159.9,991.9 2162.4,974.0 2163.7,995.8 2165.0,997.0 2167.5,993.2 2168.8,979.1 2171.4,994.5 2173.3,996.4 2176.5,994.5 2177.1,976.6 2178.4,951.8 2181.6,957.4 2182.9,983.0 2185.4,984.9 2187.3,983.0 2189.2,946.7 2190.5,967.6 2194.4,938.4 2195.6,976.6 2198.2,976.6 2200.7,943.5 2201.4,988.1 2203.3,989.4 2205.8,986.8 2208.4,984.9 2211.0,985.5 2213.5,983.0 2216.1,977.9 2216.7,944.1 2219.9,976.6 2222.5,979.8 2225.0,979.8 2223.7,967.6 2227.6,977.9 2230.1,974.0 2231.4,942.2 2234.0,976.6 2236.5,978.5 2239.1,929.4 2240.3,972.8 2242.9,965.1 2244.8,877.1 2246.1,988.1 2247.4,988.7 2249.9,985.5 2251.8,961.3 2254.4,981.7 2256.3,983.0 2257.0,953.1 2258.9,993.2 2260.2,993.8 2263.3,989.4 2264.6,957.4 2266.5,887.9 2268.5,951.0 2272.3,976.6 2273.6,978.5 2276.1,899.4 2278.0,975.3 2281.5,933.7 2282.7,832.7 2287.9,922.8 2289.1,955.4 2293.0,956.7 2296.2,862.1 2298.1,954.7 2300.0,956.0 2301.9,961.8 2304.5,947.1 2307.0,967.5 2309.6,972.9 2311.5,961.1 2310.9,944.6 2313.4,948.4 2316.6,929.9 2320.4,930.5 2321.1,961.1 2323.0,966.5 2324.9,961.1 2326.2,903.1 2328.1,903.6 2328.7,954.7 2330.7,956.6 2332.6,954.7 2333.2,850.5" fill="none" stroke="#000000" stroke-width="6.8" stroke-linejoin="round" stroke-linecap="butt"/>
<polyline points="1014.0,651.7 1015.8,648.3 1017.8,610.3 1020.3,607.0 1021.0,686.8 1021.8,690.8 1023.5,689.3 1024.3,784.9 1026.3,781.3 1028.3,731.3 1031.3,729.3 1035.7,672.8 1040.3,771.3 1043.8,783.3 1046.8,778.3 1051.0,715.0 1055.3,781.3 1060.3,798.3 1062.8,794.3 1066.5,744.3 1069.3,794.3 1071.3,800.8 1073.3,798.3 1075.9,788.9 1076.3,835.3 1079.1,854.1 1080.3,822.3 1081.8,851.3 1083.6,820.3 1084.8,846.3 1086.0,820.9 1087.8,841.3 1089.2,818.9 1089.9,866.8 1090.5,886.6 1091.8,870.5 1093.1,886.3 1094.6,869.9 1095.9,885.6 1097.4,869.5 1098.8,882.2 1099.5,869.4 1100.7,880.8 1102.7,868.1 1103.3,892.4 1103.9,913.5 1105.2,897.4 1106.5,913.3 1107.8,896.2 1109.0,911.4 1109.9,896.9 1111.0,908.9 1112.2,903.3 1112.9,947.2 1114.8,953.6 1117.4,954.9 1118.0,964.5 1121.2,963.8 1121.8,945.9 1124.4,952.3 1125.0,971.5 1125.7,990.6 1128.2,995.1 1130.8,991.9 1131.4,972.1 1134.0,972.8 1136.5,977.9 1137.8,998.9 1141.6,1002.8 1142.3,989.4 1144.2,988.1 1145.5,1034.1 1149.3,1034.1 1148.7,956.8 1150.6,956.8 1151.2,995.8 1153.1,995.8 1154.4,1018.8 1157.0,1020.7 1154.4,790.0 1158.9,993.2 1162.1,995.8 1162.7,1021.3 1164.6,1023.9 1165.3,1037.9 1168.5,1039.2 1169.7,1046.2 1172.9,1046.2 1171.3,958.7 1174.2,957.4 1175.5,1032.8 1178.0,1032.8 1177.1,846.4 1182.5,1085.2 1185.3,1127.1 1188.3,1085.2 1194.7,939.0 1197.2,1023.9 1198.5,1026.4 1199.8,1037.9 1201.7,1038.6 1203.6,1034.1 1206.2,1017.5 1208.1,1021.3 1208.7,1046.9 1210.6,1053.3 1214.5,1057.1 1215.7,1054.5 1216.4,1027.7 1219.6,1021.3 1220.8,965.1 1223.4,966.4 1224.0,1027.7 1226.0,1053.3 1227.2,1011.1 1229.8,1059.0 1231.1,1009.8 1234.9,1056.4 1235.5,1008.5 1238.7,1046.9 1240.0,1036.6 1241.3,919.2 1245.1,1037.9 1247.7,1039.2 1251.5,939.7 1250.9,1063.5 1253.4,1063.5 1256.0,1044.3 1257.3,986.8 1259.8,977.9 1261.7,1050.7 1263.6,1049.4 1268.1,873.2 1270.7,873.2 1271.3,1021.3 1272.0,1055.8 1275.8,1056.4 1277.7,1041.8 1279.6,1059.6 1284.1,1067.9 1287.3,1064.7 1288.6,1044.3 1290.5,1057.1 1295.0,1053.3 1296.2,1034.1 1297.5,1030.3 1298.1,1013.6 1300.7,1020.0 1302.6,998.3 1300.1,975.3 1304.5,904.5 1306.4,1046.9 1310.3,1057.1 1313.5,1053.3 1314.1,914.7 1316.7,1036.6 1320.5,1047.5 1323.1,1046.9 1324.3,1030.3 1321.8,976.6 1325.6,999.6 1328.2,1034.1 1329.4,1036.6 1332.6,1045.6 1335.8,1046.9 1333.3,832.9 1337.1,1039.2 1340.9,1051.3 1343.5,1050.7 1344.8,1027.7 1348.0,1029.0 1348.6,970.2 1352.4,845.1 1355.0,1057.1 1358.8,1057.7 1361.4,1054.5 1361.4,1008.5 1363.3,1052.0 1366.5,1039.2 1369.1,1027.7 1371.0,965.1 1372.9,970.2 1375.4,1067.3 1379.3,1074.3 1380.3,1073.7 1384.1,1067.3 1386.0,1040.5 1388.0,1036.6 1389.9,1021.3 1393.1,977.9 1396.9,977.9 1396.3,1044.3 1399.5,1048.1 1402.0,1046.9 1403.3,1017.5 1406.5,1017.5 1407.8,1036.6 1412.2,1037.9 1414.8,1046.9 1416.7,1054.5 1421.2,1053.9 1425.0,1053.9 1424.4,991.9 1426.9,993.2 1427.6,1025.1 1430.8,1023.9 1432.7,935.8 1435.2,1014.9 1437.8,1016.2 1439.1,1050.7 1440.4,1051.3 1443.5,1046.9 1444.2,1000.9 1446.1,1002.1 1446.7,1034.1 1449.9,1031.5 1451.2,837.4 1453.1,1060.9 1455.7,1073.7 1458.2,1076.2 1460.2,1073.7 1462.7,1046.9 1465.3,1030.3 1465.9,1008.5 1467.2,990.6 1469.7,991.9 1471.3,1021.3 1471.7,1043.0 1474.2,1044.9 1478.7,1043.0 1482.5,1041.1 1484.0,1034.1 1483.5,1004.7 1485.1,983.0 1487.6,959.3 1490.4,966.4 1492.7,995.8 1494.3,1027.7 1493.8,1031.5 1494.7,1066.0 1498.5,1067.9 1501.7,1062.2 1504.2,1048.1 1508.1,1046.9 1510.6,1045.6 1511.3,1034.1 1514.5,1030.3 1515.7,1004.7 1513.2,990.6 1518.3,949.2 1520.8,1000.9 1525.3,942.9 1527.2,995.8 1529.8,1031.5 1532.3,1034.1 1533.6,1039.2 1538.1,1046.2 1541.3,1044.3 1543.8,1034.1 1545.1,1030.3 1544.5,778.6 1550.9,930.7 1556.6,833.5 1557.3,1044.9 1559.2,1039.2 1565.6,1038.6 1568.1,1036.6 1569.4,1026.4 1573.2,1021.3 1576.4,945.4 1577.7,1044.3 1579.0,1044.9 1582.2,1044.3 1584.7,1037.9 1589.8,1034.1 1586.0,979.1 1589.8,979.1 1592.4,1037.9 1595.0,1038.6 1597.5,1021.3 1600.1,1022.6 1601.3,1037.9 1605.2,1039.2 1606.4,1008.5 1607.7,931.4 1611.6,998.3 1615.4,993.2 1616.7,871.3 1620.5,963.8 1621.8,1006.0 1624.3,1008.5 1625.6,1028.3 1628.2,1027.7 1630.7,1014.9 1632.6,939.0 1635.8,1013.6 1639.7,1022.6 1641.6,1022.6 1642.9,870.7 1646.1,1021.3 1649.9,1023.9 1649.9,948.6 1656.9,903.9 1657.6,1040.5 1658.8,1041.8 1660.8,1041.1 1661.4,983.0 1663.9,984.3 1665.2,1029.0 1667.1,1029.6 1670.3,1025.1 1671.6,1006.0 1674.2,1022.6 1676.7,983.6 1680.3,985.5 1680.3,989.4 1681.6,1003.4 1682.9,1032.2 1685.4,1030.3 1688.0,1007.3 1690.5,1011.1 1692.4,1030.3 1695.6,1032.2 1699.5,1029.0 1699.2,929.4 1703.3,1021.3 1704.6,1041.8 1706.5,1043.0 1709.0,1036.6 1710.3,1008.5 1712.2,1018.8 1714.8,1017.5 1715.4,1004.7 1717.4,1003.4 1719.3,953.7 1719.9,1039.2 1721.8,1041.1 1725.0,1037.9 1727.6,1040.5 1730.1,1039.8 1730.8,1023.9 1734.0,1022.6 1734.0,995.8 1736.5,995.8 1737.8,989.4 1742.3,988.1 1741.6,1023.9 1744.2,1024.5 1746.7,1024.5 1748.0,997.0 1751.9,995.8 1754.4,986.8 1753.1,1023.9 1756.3,1022.6 1758.2,998.3 1760.8,999.6 1762.1,1020.0 1764.6,1021.3 1767.2,1008.5 1768.5,952.4 1771.7,1030.3 1773.6,1034.1 1776.1,1030.3 1778.0,1021.3 1780.6,1011.1 1782.5,1018.8 1786.3,1021.3 1788.3,995.8 1790.8,991.9 1790.2,1025.1 1792.7,1025.8 1795.3,1023.9 1796.6,1000.9 1798.5,997.0 1801.0,1014.9 1803.0,1014.3 1804.9,999.6 1806.8,1013.6 1810.0,1014.3 1813.2,1009.8 1811.9,993.2 1815.1,991.9 1817.7,985.5 1818.3,1030.3 1820.2,1030.9 1823.4,1025.1 1826.0,1008.5 1828.5,1004.7 1830.4,1026.4 1833.0,1028.3 1835.5,1023.9 1836.8,1003.4 1839.4,1000.9 1840.0,1029.0 1842.6,1029.6 1845.1,1034.1 1847.7,1035.4 1850.2,1032.8 1842.6,966.4 1846.4,965.1 1850.9,911.6 1851.5,1006.0 1854.7,1007.3 1858.5,923.1 1861.7,998.3 1864.3,999.6 1866.8,947.3 1870.7,983.0 1873.2,975.3 1875.8,974.0 1875.8,998.3 1877.7,999.6 1879.6,995.8 1882.2,960.0 1884.7,956.3 1888.6,957.4 1886.0,1003.4 1889.8,1003.4 1892.4,1006.0 1895.0,1006.6 1897.5,970.2 1900.7,904.5 1905.2,963.8 1909.0,1021.3 1912.8,1003.4 1916.7,993.2 1917.9,957.4 1921.1,917.9 1924.3,989.4 1926.9,957.4 1929.4,958.7 1930.1,1021.3 1933.9,1023.2 1935.8,1021.9 1939.0,1021.3 1940.9,1008.5 1935.8,998.3 1942.2,999.6 1946.1,998.3 1948.6,1009.8 1951.8,1007.3 1953.7,995.8 1955.6,950.5 1958.2,1009.8 1959.5,1010.4 1962.7,1007.3 1966.5,1004.7 1969.1,1017.5 1972.9,1018.1 1975.4,1014.9 1974.2,1002.1 1978.0,997.0 1978.6,976.6 1980.3,975.3 1980.3,976.6 1981.6,1013.6 1983.5,1016.2 1986.0,1013.6 1987.3,1004.7 1989.9,1000.9 1989.2,912.2 1992.4,908.9 1995.6,896.2 1996.3,946.7 1999.5,944.6 2001.4,926.8 2002.0,960.0 2005.9,960.6 2007.4,899.4 2008.4,1009.8 2011.6,1010.4 2012.2,1000.9 2014.8,1000.9 2014.2,1027.7 2016.1,1029.0 2022.5,1029.0 2023.1,1008.5 2022.5,965.1 2025.0,965.1 2026.3,1004.7 2029.5,1006.0 2031.4,1004.7 2031.4,976.6 2034.0,977.9 2034.6,1011.1 2036.5,1013.0 2038.4,1008.5 2040.4,1000.9 2042.9,997.0 2039.1,974.0 2044.2,988.1 2047.4,916.0 2048.7,990.6 2049.9,991.9 2052.5,986.8 2054.4,968.9 2057.0,970.2 2057.6,988.1 2059.5,990.0 2063.3,986.8 2064.0,971.5 2062.1,957.4 2064.6,947.2 2065.9,967.6 2067.8,967.0 2069.1,940.3 2070.4,967.6 2071.7,957.4 2071.3,988.1 2072.9,990.0 2075.5,989.4 2076.1,997.0 2078.7,998.3 2080.0,1005.3 2082.5,1003.4 2083.8,974.0 2086.3,979.1 2087.0,1011.1 2088.9,1011.7 2091.5,983.0 2092.7,1013.6 2095.3,1018.8 2098.5,1022.6 2100.4,1018.8 2101.0,1002.1 2099.1,976.6 2101.7,974.0 2103.0,999.6 2104.9,1000.9 2105.5,971.5 2106.8,995.8 2106.2,967.6 2108.1,995.8 2110.6,997.0 2112.5,868.8 2115.7,999.6 2118.9,998.3 2118.3,926.8 2120.8,979.1 2124.0,842.6 2127.9,948.0 2132.3,947.2 2133.0,994.5 2135.5,995.8 2136.8,1008.5 2141.3,1010.4 2141.9,988.1 2138.7,983.0 2145.1,986.8 2146.4,950.5 2149.0,986.8 2150.9,962.5 2152.8,974.0 2154.1,998.3 2156.0,1000.2 2158.5,998.3 2160.5,991.9 2163.0,974.0 2164.3,995.8 2165.6,997.0 2168.1,993.2 2169.4,979.1 2172.0,994.5 2173.9,996.4 2177.1,994.5 2177.7,976.6 2179.0,951.8 2182.2,957.4 2183.5,983.0 2186.0,984.9 2187.9,983.0 2189.8,946.7 2191.1,967.6 2195.0,938.4 2196.2,976.6 2198.8,976.6 2201.3,943.5 2202.0,988.1 2203.9,989.4 2206.4,986.8 2209.0,984.9 2211.6,985.5 2214.1,983.0 2216.7,977.9 2217.3,944.1 2220.5,976.6 2223.1,979.8 2225.6,979.8 2224.3,967.6 2228.2,977.9 2230.7,974.0 2232.0,942.2 2234.6,976.6 2237.1,978.5 2239.7,929.4 2240.9,972.8 2243.5,965.1 2245.4,877.1 2246.7,988.1 2248.0,988.7 2250.5,985.5 2252.4,961.3 2255.0,981.7 2256.9,983.0 2257.6,953.1 2259.5,993.2 2260.8,993.8 2263.9,989.4 2265.2,957.4 2267.1,887.9 2269.1,951.0 2272.9,976.6 2274.2,978.5 2276.7,899.4 2278.6,975.3 2282.1,933.7 2283.3,832.7 2288.5,922.8 2289.7,955.4 2293.6,956.7 2296.8,862.1 2298.7,954.7 2300.6,956.0 2302.5,961.8 2305.1,947.1 2307.6,967.5 2310.2,972.9 2312.1,961.1 2311.5,944.6 2314.0,948.4 2317.2,929.9 2321.0,930.5 2321.7,961.1 2323.6,966.5 2325.5,961.1 2326.8,903.1 2328.7,903.6 2329.3,954.7 2331.3,956.6 2333.2,954.7 2333.8,850.5" fill="none" stroke="#000000" stroke-width="6.8" stroke-linejoin="round" stroke-linecap="butt"/>
<polyline points="240.5,1200.7 883.5,1200.7 883.6,1201.2 887.5,1206.3 891.9,1206.9 895.8,1210.1 900.9,1204.4 906.0,1212.7 911.1,1206.3 914.9,1209.5 920.1,1205.0 922.6,1208.9 935.4,1209.5 936.7,1204.4 944.3,1205.7 948.8,1197.4 950.7,1208.9 954.5,1204.4 959.7,1201.8 964.8,1205.7 967.3,1215.2 971.2,1200.5 973.7,1212.0 977.5,1201.2 980.1,1210.8 983.3,1210.1 987.1,1221.6 990.3,1199.9 992.9,1199.9 996.1,1217.2 998.0,1206.9 1001.8,1205.7 1004.1,1198.0 1004.6,1149.4 1005.0,1060.0 1005.4,889.5 1007.5,887.0 1010.0,890.5 1011.0,868.0 1013.7,864.6" fill="none" stroke="#39308a" stroke-width="6.8" stroke-linejoin="round" stroke-linecap="butt"/>
<polyline points="1013.4,864.6 1015.2,868.0 1017.2,906.0 1019.7,909.3 1020.4,829.5 1021.2,825.5 1022.9,827.0 1023.7,731.4 1025.7,735.0 1027.7,785.0 1030.7,787.0 1035.1,843.5 1039.7,745.0 1043.2,733.0 1046.2,738.0 1050.4,801.3 1054.7,735.0 1059.7,718.0 1062.2,722.0 1065.9,772.0 1068.7,722.0 1070.7,715.5 1072.7,718.0 1075.3,727.4 1075.7,681.0 1078.5,662.2 1079.7,694.0 1081.2,665.0 1083.0,696.0 1084.2,670.0 1085.4,695.4 1087.2,675.0 1088.6,697.4 1089.3,649.5 1089.9,629.7 1091.2,645.8 1092.5,630.0 1094.0,646.4 1095.3,630.7 1096.8,646.8 1098.2,634.1 1098.9,646.9 1100.1,635.5 1102.1,648.2 1102.7,623.9 1103.3,602.8 1104.6,618.9 1105.9,603.0 1107.2,620.1 1108.4,604.9 1109.3,619.4 1110.4,607.4 1111.6,613.0 1112.3,569.1 1114.2,562.7 1116.8,561.4 1117.4,551.8 1120.6,552.5 1121.2,570.4 1123.8,564.0 1124.4,544.8 1125.1,525.7 1127.6,521.2 1130.2,524.4 1130.8,544.2 1133.4,543.5 1135.9,538.4 1137.2,517.4 1141.0,513.5 1141.7,526.9 1143.6,528.2 1144.9,482.2 1148.7,482.2 1148.1,559.5 1150.0,559.5 1150.6,520.5 1152.5,520.5 1153.8,497.5 1156.4,495.6 1153.8,734.4 1158.3,523.1 1161.5,520.5 1162.1,495.0 1164.0,492.4 1164.7,478.4 1167.9,477.1 1169.1,470.1 1172.3,470.1 1170.7,557.6 1173.6,558.9 1174.9,483.5 1177.4,483.5 1176.5,669.9 1181.9,431.1 1184.7,389.2 1187.7,431.1 1194.1,577.3 1196.6,492.4 1197.9,489.9 1199.2,478.4 1201.1,477.7 1203.0,482.2 1205.6,498.8 1207.5,495.0 1208.1,469.4 1210.0,463.0 1213.9,459.2 1215.1,461.8 1215.8,488.6 1219.0,495.0 1220.2,551.2 1222.8,549.9 1223.4,488.6 1225.4,463.0 1226.6,505.2 1229.2,457.3 1230.5,506.5 1234.3,459.9 1234.9,507.8 1238.1,469.4 1239.4,479.7 1240.7,597.1 1244.5,478.4 1247.1,477.1 1250.9,576.6 1250.3,452.8 1252.8,452.8 1255.4,472.0 1256.7,529.5 1259.2,538.4 1261.1,465.6 1263.0,466.9 1267.5,643.1 1270.1,643.1 1270.7,495.0 1271.4,460.5 1275.2,459.9 1277.1,474.5 1279.0,456.7 1283.5,448.4 1286.7,451.6 1288.0,472.0 1289.9,459.2 1294.4,463.0 1295.6,482.2 1296.9,486.0 1297.5,502.7 1300.1,496.3 1302.0,518.0 1299.5,541.0 1303.9,611.8 1305.8,469.4 1309.7,459.2 1312.9,463.0 1313.5,601.6 1316.1,479.7 1319.9,468.8 1322.5,469.4 1323.7,486.0 1321.2,539.7 1325.0,516.7 1327.6,482.2 1328.8,479.7 1332.0,470.7 1335.2,469.4 1332.7,684.0 1336.5,477.1 1340.3,465.0 1342.9,465.6 1344.2,488.6 1347.4,487.3 1348.0,546.1 1351.8,671.2 1354.4,459.2 1358.2,458.6 1360.8,461.8 1360.8,507.8 1362.7,464.3 1365.9,477.1 1368.5,488.6 1370.4,551.2 1372.3,546.1 1374.8,449.0 1378.7,442.0 1379.7,442.6 1383.5,449.0 1385.4,475.8 1387.4,479.7 1389.3,495.0 1392.5,538.4 1396.3,538.4 1395.7,472.0 1398.9,468.2 1401.4,469.4 1402.7,498.8 1405.9,498.8 1407.2,479.7 1411.6,478.4 1414.2,469.4 1416.1,461.8 1420.6,462.4 1424.4,462.4 1423.8,524.4 1426.3,523.1 1427.0,491.2 1430.2,492.4 1432.1,580.5 1434.6,501.4 1437.2,500.1 1438.5,465.6 1439.8,465.0 1442.9,469.4 1443.6,515.4 1445.5,514.2 1446.1,482.2 1449.3,484.8 1450.6,678.9 1452.5,455.4 1455.1,442.6 1457.6,440.1 1459.6,442.6 1462.1,469.4 1464.7,486.0 1465.3,507.8 1466.6,525.7 1469.1,524.4 1470.7,495.0 1471.1,473.3 1473.6,471.4 1478.1,473.3 1481.9,475.2 1483.4,482.2 1482.9,511.6 1484.5,533.3 1487.0,557.0 1489.8,549.9 1492.1,520.5 1493.7,488.6 1493.2,484.8 1494.1,450.3 1497.9,448.4 1501.1,454.1 1503.6,468.2 1507.5,469.4 1510.0,470.7 1510.7,482.2 1513.9,486.0 1515.1,511.6 1512.6,525.7 1517.7,567.1 1520.2,515.4 1524.7,573.4 1526.6,520.5 1529.2,484.8 1531.7,482.2 1533.0,477.1 1537.5,470.1 1540.7,472.0 1543.2,482.2 1544.5,486.0 1543.9,747.8 1550.3,585.6 1556.0,683.3 1556.7,471.4 1558.6,477.1 1565.0,477.7 1567.5,479.7 1568.8,489.9 1572.6,495.0 1575.8,570.9 1577.1,472.0 1578.4,471.4 1581.6,472.0 1584.1,478.4 1589.2,482.2 1585.4,537.2 1589.2,537.2 1591.8,478.4 1594.4,477.7 1596.9,495.0 1599.5,493.7 1600.7,478.4 1604.6,477.1 1605.8,507.8 1607.1,584.9 1611.0,518.0 1614.8,523.1 1616.1,645.0 1619.9,552.5 1621.2,510.3 1623.7,507.8 1625.0,488.0 1627.6,488.6 1630.1,501.4 1632.0,577.3 1635.2,502.7 1639.1,493.7 1641.0,493.7 1642.3,645.6 1645.5,495.0 1649.3,492.4 1649.3,567.7 1656.3,612.4 1657.0,475.8 1658.2,474.5 1660.2,475.2 1660.8,533.3 1663.3,532.0 1664.6,487.3 1666.5,486.7 1669.7,491.2 1671.0,510.3 1673.6,493.7 1676.1,532.7 1679.7,530.8 1679.7,526.9 1681.0,512.9 1682.3,484.1 1684.8,486.0 1687.4,509.0 1689.9,505.2 1691.8,486.0 1695.0,484.1 1698.9,487.3 1698.6,586.9 1702.7,495.0 1704.0,474.5 1705.9,473.3 1708.4,479.7 1709.7,507.8 1711.6,497.5 1714.2,498.8 1714.8,511.6 1716.8,512.9 1718.7,562.6 1719.3,477.1 1721.2,475.2 1724.4,478.4 1727.0,475.8 1729.5,476.5 1730.2,492.4 1733.4,493.7 1733.4,520.5 1735.9,520.5 1737.2,526.9 1741.7,528.2 1741.0,492.4 1743.6,491.8 1746.1,491.8 1747.4,519.3 1751.3,520.5 1753.8,529.5 1752.5,492.4 1755.7,493.7 1757.6,518.0 1760.2,516.7 1761.5,496.3 1764.0,495.0 1766.6,507.8 1767.9,563.9 1771.1,486.0 1773.0,482.2 1775.5,486.0 1777.4,495.0 1780.0,505.2 1781.9,497.5 1785.7,495.0 1787.7,520.5 1790.2,524.4 1789.6,491.2 1792.1,490.5 1794.7,492.4 1796.0,515.4 1797.9,519.3 1800.4,501.4 1802.4,502.0 1804.3,516.7 1806.2,502.7 1809.4,502.0 1812.6,506.5 1811.3,523.1 1814.5,524.4 1817.1,530.8 1817.7,486.0 1819.6,485.4 1822.8,491.2 1825.4,507.8 1827.9,511.6 1829.8,489.9 1832.4,488.0 1834.9,492.4 1836.2,512.9 1838.8,515.4 1839.4,487.3 1842.0,486.7 1844.5,482.2 1847.1,480.9 1849.6,483.5 1842.0,549.9 1845.8,551.2 1850.3,604.7 1850.9,510.3 1854.1,509.0 1857.9,593.2 1861.1,518.0 1863.7,516.7 1866.2,569.0 1870.1,533.3 1872.6,541.0 1875.2,542.3 1875.2,518.0 1877.1,516.7 1879.0,520.5 1881.6,556.3 1884.1,560.0 1888.0,558.9 1885.4,512.9 1889.2,512.9 1891.8,510.3 1894.4,509.7 1896.9,546.1 1900.1,611.8 1904.6,552.5 1908.4,495.0 1912.2,512.9 1916.1,523.1 1917.3,558.9 1920.5,598.4 1923.7,526.9 1926.3,558.9 1928.8,557.6 1929.5,495.0 1933.3,493.1 1935.2,494.4 1938.4,495.0 1940.3,507.8 1935.2,518.0 1941.6,516.7 1945.5,518.0 1948.0,506.5 1951.2,509.0 1953.1,520.5 1955.0,565.8 1957.6,506.5 1958.9,505.9 1962.1,509.0 1965.9,511.6 1968.5,498.8 1972.3,498.2 1974.8,501.4 1973.6,514.2 1977.4,519.3 1978.0,539.7 1979.7,541.0 1979.7,539.7 1981.0,502.7 1982.9,500.1 1985.4,502.7 1986.7,511.6 1989.3,515.4 1988.6,604.1 1991.8,607.4 1995.0,620.1 1995.7,569.6 1998.9,571.7 2000.8,589.5 2001.4,556.3 2005.3,555.7 2006.8,616.9 2007.8,506.5 2011.0,505.9 2011.6,515.4 2014.2,515.4 2013.6,488.6 2015.5,487.3 2021.9,487.3 2022.5,507.8 2021.9,551.2 2024.4,551.2 2025.7,511.6 2028.9,510.3 2030.8,511.6 2030.8,539.7 2033.4,538.4 2034.0,505.2 2035.9,503.3 2037.8,507.8 2039.8,515.4 2042.3,519.3 2038.5,542.3 2043.6,528.2 2046.8,600.3 2048.1,525.7 2049.3,524.4 2051.9,529.5 2053.8,547.4 2056.4,546.1 2057.0,528.2 2058.9,526.3 2062.7,529.5 2063.4,544.8 2061.5,558.9 2064.0,569.1 2065.3,548.7 2067.2,549.3 2068.5,576.0 2069.8,548.7 2071.1,558.9 2070.7,528.2 2072.3,526.3 2074.9,526.9 2075.5,519.3 2078.1,518.0 2079.4,511.0 2081.9,512.9 2083.2,542.3 2085.7,537.2 2086.4,505.2 2088.3,504.6 2090.9,533.3 2092.1,502.7 2094.7,497.5 2097.9,493.7 2099.8,497.5 2100.4,514.2 2098.5,539.7 2101.1,542.3 2102.4,516.7 2104.3,515.4 2104.9,544.8 2106.2,520.5 2105.6,548.7 2107.5,520.5 2110.0,519.3 2111.9,647.5 2115.1,516.7 2118.3,518.0 2117.7,589.5 2120.2,537.2 2123.4,673.7 2127.3,568.3 2131.7,569.1 2132.4,521.8 2134.9,520.5 2136.2,507.8 2140.7,505.9 2141.3,528.2 2138.1,533.3 2144.5,529.5 2145.8,565.8 2148.4,529.5 2150.3,553.8 2152.2,542.3 2153.5,518.0 2155.4,516.1 2157.9,518.0 2159.9,524.4 2162.4,542.3 2163.7,520.5 2165.0,519.3 2167.5,523.1 2168.8,537.2 2171.4,521.8 2173.3,519.9 2176.5,521.8 2177.1,539.7 2178.4,564.5 2181.6,558.9 2182.9,533.3 2185.4,531.4 2187.3,533.3 2189.2,569.6 2190.5,548.7 2194.4,577.9 2195.6,539.7 2198.2,539.7 2200.7,572.8 2201.4,528.2 2203.3,526.9 2205.8,529.5 2208.4,531.4 2211.0,530.8 2213.5,533.3 2216.1,538.4 2216.7,572.2 2219.9,539.7 2222.5,536.5 2225.0,536.5 2223.7,548.7 2227.6,538.4 2230.1,542.3 2231.4,574.1 2234.0,539.7 2236.5,537.8 2239.1,586.9 2240.3,543.5 2242.9,551.2 2244.8,639.2 2246.1,528.2 2247.4,527.6 2249.9,530.8 2251.8,555.0 2254.4,534.6 2256.3,533.3 2257.0,563.2 2258.9,523.1 2260.2,522.5 2263.3,526.9 2264.6,558.9 2266.5,628.4 2268.5,565.3 2272.3,539.7 2273.6,537.8 2276.1,616.9 2278.0,541.0 2281.5,582.6 2282.7,684.3 2287.9,593.5 2289.1,560.9 2293.0,559.6 2296.2,654.2 2298.1,561.6 2300.0,560.3 2301.9,554.5 2304.5,569.2 2307.0,548.8 2309.6,543.4 2311.5,555.2 2310.9,571.7 2313.4,567.9 2316.6,586.4 2320.4,585.8 2321.1,555.2 2323.0,549.8 2324.9,555.2 2326.2,613.2 2328.1,612.7 2328.7,561.6 2330.7,559.7 2332.6,561.6 2333.2,665.8" fill="none" stroke="#39308a" stroke-width="6.8" stroke-linejoin="round" stroke-linecap="butt"/>
<polyline points="1014.0,864.6 1015.8,868.0 1017.8,906.0 1020.3,909.3 1021.0,829.5 1021.8,825.5 1023.5,827.0 1024.3,731.4 1026.3,735.0 1028.3,785.0 1031.3,787.0 1035.7,843.5 1040.3,745.0 1043.8,733.0 1046.8,738.0 1051.0,801.3 1055.3,735.0 1060.3,718.0 1062.8,722.0 1066.5,772.0 1069.3,722.0 1071.3,715.5 1073.3,718.0 1075.9,727.4 1076.3,681.0 1079.1,662.2 1080.3,694.0 1081.8,665.0 1083.6,696.0 1084.8,670.0 1086.0,695.4 1087.8,675.0 1089.2,697.4 1089.9,649.5 1090.5,629.7 1091.8,645.8 1093.1,630.0 1094.6,646.4 1095.9,630.7 1097.4,646.8 1098.8,634.1 1099.5,646.9 1100.7,635.5 1102.7,648.2 1103.3,623.9 1103.9,602.8 1105.2,618.9 1106.5,603.0 1107.8,620.1 1109.0,604.9 1109.9,619.4 1111.0,607.4 1112.2,613.0 1112.9,569.1 1114.8,562.7 1117.4,561.4 1118.0,551.8 1121.2,552.5 1121.8,570.4 1124.4,564.0 1125.0,544.8 1125.7,525.7 1128.2,521.2 1130.8,524.4 1131.4,544.2 1134.0,543.5 1136.5,538.4 1137.8,517.4 1141.6,513.5 1142.3,526.9 1144.2,528.2 1145.5,482.2 1149.3,482.2 1148.7,559.5 1150.6,559.5 1151.2,520.5 1153.1,520.5 1154.4,497.5 1157.0,495.6 1154.4,734.4 1158.9,523.1 1162.1,520.5 1162.7,495.0 1164.6,492.4 1165.3,478.4 1168.5,477.1 1169.7,470.1 1172.9,470.1 1171.3,557.6 1174.2,558.9 1175.5,483.5 1178.0,483.5 1177.1,669.9 1182.5,431.1 1185.3,389.2 1188.3,431.1 1194.7,577.3 1197.2,492.4 1198.5,489.9 1199.8,478.4 1201.7,477.7 1203.6,482.2 1206.2,498.8 1208.1,495.0 1208.7,469.4 1210.6,463.0 1214.5,459.2 1215.7,461.8 1216.4,488.6 1219.6,495.0 1220.8,551.2 1223.4,549.9 1224.0,488.6 1226.0,463.0 1227.2,505.2 1229.8,457.3 1231.1,506.5 1234.9,459.9 1235.5,507.8 1238.7,469.4 1240.0,479.7 1241.3,597.1 1245.1,478.4 1247.7,477.1 1251.5,576.6 1250.9,452.8 1253.4,452.8 1256.0,472.0 1257.3,529.5 1259.8,538.4 1261.7,465.6 1263.6,466.9 1268.1,643.1 1270.7,643.1 1271.3,495.0 1272.0,460.5 1275.8,459.9 1277.7,474.5 1279.6,456.7 1284.1,448.4 1287.3,451.6 1288.6,472.0 1290.5,459.2 1295.0,463.0 1296.2,482.2 1297.5,486.0 1298.1,502.7 1300.7,496.3 1302.6,518.0 1300.1,541.0 1304.5,611.8 1306.4,469.4 1310.3,459.2 1313.5,463.0 1314.1,601.6 1316.7,479.7 1320.5,468.8 1323.1,469.4 1324.3,486.0 1321.8,539.7 1325.6,516.7 1328.2,482.2 1329.4,479.7 1332.6,470.7 1335.8,469.4 1333.3,684.0 1337.1,477.1 1340.9,465.0 1343.5,465.6 1344.8,488.6 1348.0,487.3 1348.6,546.1 1352.4,671.2 1355.0,459.2 1358.8,458.6 1361.4,461.8 1361.4,507.8 1363.3,464.3 1366.5,477.1 1369.1,488.6 1371.0,551.2 1372.9,546.1 1375.4,449.0 1379.3,442.0 1380.3,442.6 1384.1,449.0 1386.0,475.8 1388.0,479.7 1389.9,495.0 1393.1,538.4 1396.9,538.4 1396.3,472.0 1399.5,468.2 1402.0,469.4 1403.3,498.8 1406.5,498.8 1407.8,479.7 1412.2,478.4 1414.8,469.4 1416.7,461.8 1421.2,462.4 1425.0,462.4 1424.4,524.4 1426.9,523.1 1427.6,491.2 1430.8,492.4 1432.7,580.5 1435.2,501.4 1437.8,500.1 1439.1,465.6 1440.4,465.0 1443.5,469.4 1444.2,515.4 1446.1,514.2 1446.7,482.2 1449.9,484.8 1451.2,678.9 1453.1,455.4 1455.7,442.6 1458.2,440.1 1460.2,442.6 1462.7,469.4 1465.3,486.0 1465.9,507.8 1467.2,525.7 1469.7,524.4 1471.3,495.0 1471.7,473.3 1474.2,471.4 1478.7,473.3 1482.5,475.2 1484.0,482.2 1483.5,511.6 1485.1,533.3 1487.6,557.0 1490.4,549.9 1492.7,520.5 1494.3,488.6 1493.8,484.8 1494.7,450.3 1498.5,448.4 1501.7,454.1 1504.2,468.2 1508.1,469.4 1510.6,470.7 1511.3,482.2 1514.5,486.0 1515.7,511.6 1513.2,525.7 1518.3,567.1 1520.8,515.4 1525.3,573.4 1527.2,520.5 1529.8,484.8 1532.3,482.2 1533.6,477.1 1538.1,470.1 1541.3,472.0 1543.8,482.2 1545.1,486.0 1544.5,747.8 1550.9,585.6 1556.6,683.3 1557.3,471.4 1559.2,477.1 1565.6,477.7 1568.1,479.7 1569.4,489.9 1573.2,495.0 1576.4,570.9 1577.7,472.0 1579.0,471.4 1582.2,472.0 1584.7,478.4 1589.8,482.2 1586.0,537.2 1589.8,537.2 1592.4,478.4 1595.0,477.7 1597.5,495.0 1600.1,493.7 1601.3,478.4 1605.2,477.1 1606.4,507.8 1607.7,584.9 1611.6,518.0 1615.4,523.1 1616.7,645.0 1620.5,552.5 1621.8,510.3 1624.3,507.8 1625.6,488.0 1628.2,488.6 1630.7,501.4 1632.6,577.3 1635.8,502.7 1639.7,493.7 1641.6,493.7 1642.9,645.6 1646.1,495.0 1649.9,492.4 1649.9,567.7 1656.9,612.4 1657.6,475.8 1658.8,474.5 1660.8,475.2 1661.4,533.3 1663.9,532.0 1665.2,487.3 1667.1,486.7 1670.3,491.2 1671.6,510.3 1674.2,493.7 1676.7,532.7 1680.3,530.8 1680.3,526.9 1681.6,512.9 1682.9,484.1 1685.4,486.0 1688.0,509.0 1690.5,505.2 1692.4,486.0 1695.6,484.1 1699.5,487.3 1699.2,586.9 1703.3,495.0 1704.6,474.5 1706.5,473.3 1709.0,479.7 1710.3,507.8 1712.2,497.5 1714.8,498.8 1715.4,511.6 1717.4,512.9 1719.3,562.6 1719.9,477.1 1721.8,475.2 1725.0,478.4 1727.6,475.8 1730.1,476.5 1730.8,492.4 1734.0,493.7 1734.0,520.5 1736.5,520.5 1737.8,526.9 1742.3,528.2 1741.6,492.4 1744.2,491.8 1746.7,491.8 1748.0,519.3 1751.9,520.5 1754.4,529.5 1753.1,492.4 1756.3,493.7 1758.2,518.0 1760.8,516.7 1762.1,496.3 1764.6,495.0 1767.2,507.8 1768.5,563.9 1771.7,486.0 1773.6,482.2 1776.1,486.0 1778.0,495.0 1780.6,505.2 1782.5,497.5 1786.3,495.0 1788.3,520.5 1790.8,524.4 1790.2,491.2 1792.7,490.5 1795.3,492.4 1796.6,515.4 1798.5,519.3 1801.0,501.4 1803.0,502.0 1804.9,516.7 1806.8,502.7 1810.0,502.0 1813.2,506.5 1811.9,523.1 1815.1,524.4 1817.7,530.8 1818.3,486.0 1820.2,485.4 1823.4,491.2 1826.0,507.8 1828.5,511.6 1830.4,489.9 1833.0,488.0 1835.5,492.4 1836.8,512.9 1839.4,515.4 1840.0,487.3 1842.6,486.7 1845.1,482.2 1847.7,480.9 1850.2,483.5 1842.6,549.9 1846.4,551.2 1850.9,604.7 1851.5,510.3 1854.7,509.0 1858.5,593.2 1861.7,518.0 1864.3,516.7 1866.8,569.0 1870.7,533.3 1873.2,541.0 1875.8,542.3 1875.8,518.0 1877.7,516.7 1879.6,520.5 1882.2,556.3 1884.7,560.0 1888.6,558.9 1886.0,512.9 1889.8,512.9 1892.4,510.3 1895.0,509.7 1897.5,546.1 1900.7,611.8 1905.2,552.5 1909.0,495.0 1912.8,512.9 1916.7,523.1 1917.9,558.9 1921.1,598.4 1924.3,526.9 1926.9,558.9 1929.4,557.6 1930.1,495.0 1933.9,493.1 1935.8,494.4 1939.0,495.0 1940.9,507.8 1935.8,518.0 1942.2,516.7 1946.1,518.0 1948.6,506.5 1951.8,509.0 1953.7,520.5 1955.6,565.8 1958.2,506.5 1959.5,505.9 1962.7,509.0 1966.5,511.6 1969.1,498.8 1972.9,498.2 1975.4,501.4 1974.2,514.2 1978.0,519.3 1978.6,539.7 1980.3,541.0 1980.3,539.7 1981.6,502.7 1983.5,500.1 1986.0,502.7 1987.3,511.6 1989.9,515.4 1989.2,604.1 1992.4,607.4 1995.6,620.1 1996.3,569.6 1999.5,571.7 2001.4,589.5 2002.0,556.3 2005.9,555.7 2007.4,616.9 2008.4,506.5 2011.6,505.9 2012.2,515.4 2014.8,515.4 2014.2,488.6 2016.1,487.3 2022.5,487.3 2023.1,507.8 2022.5,551.2 2025.0,551.2 2026.3,511.6 2029.5,510.3 2031.4,511.6 2031.4,539.7 2034.0,538.4 2034.6,505.2 2036.5,503.3 2038.4,507.8 2040.4,515.4 2042.9,519.3 2039.1,542.3 2044.2,528.2 2047.4,600.3 2048.7,525.7 2049.9,524.4 2052.5,529.5 2054.4,547.4 2057.0,546.1 2057.6,528.2 2059.5,526.3 2063.3,529.5 2064.0,544.8 2062.1,558.9 2064.6,569.1 2065.9,548.7 2067.8,549.3 2069.1,576.0 2070.4,548.7 2071.7,558.9 2071.3,528.2 2072.9,526.3 2075.5,526.9 2076.1,519.3 2078.7,518.0 2080.0,511.0 2082.5,512.9 2083.8,542.3 2086.3,537.2 2087.0,505.2 2088.9,504.6 2091.5,533.3 2092.7,502.7 2095.3,497.5 2098.5,493.7 2100.4,497.5 2101.0,514.2 2099.1,539.7 2101.7,542.3 2103.0,516.7 2104.9,515.4 2105.5,544.8 2106.8,520.5 2106.2,548.7 2108.1,520.5 2110.6,519.3 2112.5,647.5 2115.7,516.7 2118.9,518.0 2118.3,589.5 2120.8,537.2 2124.0,673.7 2127.9,568.3 2132.3,569.1 2133.0,521.8 2135.5,520.5 2136.8,507.8 2141.3,505.9 2141.9,528.2 2138.7,533.3 2145.1,529.5 2146.4,565.8 2149.0,529.5 2150.9,553.8 2152.8,542.3 2154.1,518.0 2156.0,516.1 2158.5,518.0 2160.5,524.4 2163.0,542.3 2164.3,520.5 2165.6,519.3 2168.1,523.1 2169.4,537.2 2172.0,521.8 2173.9,519.9 2177.1,521.8 2177.7,539.7 2179.0,564.5 2182.2,558.9 2183.5,533.3 2186.0,531.4 2187.9,533.3 2189.8,569.6 2191.1,548.7 2195.0,577.9 2196.2,539.7 2198.8,539.7 2201.3,572.8 2202.0,528.2 2203.9,526.9 2206.4,529.5 2209.0,531.4 2211.6,530.8 2214.1,533.3 2216.7,538.4 2217.3,572.2 2220.5,539.7 2223.1,536.5 2225.6,536.5 2224.3,548.7 2228.2,538.4 2230.7,542.3 2232.0,574.1 2234.6,539.7 2237.1,537.8 2239.7,586.9 2240.9,543.5 2243.5,551.2 2245.4,639.2 2246.7,528.2 2248.0,527.6 2250.5,530.8 2252.4,555.0 2255.0,534.6 2256.9,533.3 2257.6,563.2 2259.5,523.1 2260.8,522.5 2263.9,526.9 2265.2,558.9 2267.1,628.4 2269.1,565.3 2272.9,539.7 2274.2,537.8 2276.7,616.9 2278.6,541.0 2282.1,582.6 2283.3,684.3 2288.5,593.5 2289.7,560.9 2293.6,559.6 2296.8,654.2 2298.7,561.6 2300.6,560.3 2302.5,554.5 2305.1,569.2 2307.6,548.8 2310.2,543.4 2312.1,555.2 2311.5,571.7 2314.0,567.9 2317.2,586.4 2321.0,585.8 2321.7,555.2 2323.6,549.8 2325.5,555.2 2326.8,613.2 2328.7,612.7 2329.3,561.6 2331.3,559.7 2333.2,561.6 2333.8,665.8" fill="none" stroke="#39308a" stroke-width="6.8" stroke-linejoin="round" stroke-linecap="butt"/>
</g>
<g font-family="'Liberation Serif', serif" font-size="67" fill="#4a4a4a">
<text x="240.4" y="1373" text-anchor="middle">0</text>
<text x="562.4" y="1373" text-anchor="middle">2</text>
<text x="884.4" y="1373" text-anchor="middle">4</text>
<text x="1206.4" y="1373" text-anchor="middle">6</text>
<text x="1528.4" y="1373" text-anchor="middle">8</text>
<text x="1850.4" y="1373" text-anchor="middle">10</text>
<text x="2172.4" y="1373" text-anchor="middle">12</text>
<text x="218.7" y="1225.5" text-anchor="end">0</text>
<text x="218.7" y="1048.2" text-anchor="end">20</text>
<text x="218.7" y="871.1" text-anchor="end">40</text>
<text x="218.7" y="693.9" text-anchor="end">60</text>
<text x="218.7" y="516.7" text-anchor="end">80</text>
<text x="218.7" y="339.5" text-anchor="end">100</text>
<text x="218.7" y="162.3" text-anchor="end">120</text>
</g>
<text x="1298.3" y="1467.1" text-anchor="middle" font-family="'Liberation Serif', serif" font-size="88" fill="#000">Time [s]</text>
<g font-family="'Liberation Serif', serif" font-size="83" fill="#4a4a4a">
<text transform="translate(77.8,759.6) rotate(-90) scale(1.19,1.015)">P</text><text transform="translate(84.9,699.6) rotate(-90) scale(0.593,1.164)">[</text><text transform="translate(77.5,682.0) rotate(-90) scale(1.01,1.02)">W</text><text transform="translate(84.9,601.55) rotate(-90) scale(0.574,1.164)">]</text>
</g>
<rect x="1986" y="16" width="308" height="268" fill="#fff" stroke="#4f4f4f" stroke-width="2.2"/>
<line x1="1999.5" y1="64.5" x2="2131.2" y2="64.5" stroke="#e3171f" stroke-width="6.8"/>
<text font-family="'Liberation Serif', serif" font-style="italic" fill="#000"><tspan x="2144.2" y="81.9" font-size="70" textLength="50.5" lengthAdjust="spacingAndGlyphs">P</tspan><tspan x="2186.3" y="92.7" font-size="51" letter-spacing="0.6">load</tspan></text>
<line x1="1999.5" y1="149.8" x2="2131.2" y2="149.8" stroke="#000000" stroke-width="6.8"/>
<text font-family="'Liberation Serif', serif" font-style="italic" fill="#000"><tspan x="2144.2" y="167.2" font-size="70" textLength="50.5" lengthAdjust="spacingAndGlyphs">P</tspan><tspan x="2188.6" y="178.0" font-size="51" letter-spacing="1.6">grid</tspan></text>
<line x1="1999.5" y1="235.2" x2="2131.2" y2="235.2" stroke="#39308a" stroke-width="6.8"/>
<text font-family="'Liberation Serif', serif" font-style="italic" fill="#000"><tspan x="2144.2" y="252.6" font-size="70" textLength="50.5" lengthAdjust="spacingAndGlyphs">P</tspan><tspan x="2187.3" y="263.4" font-size="51" letter-spacing="3.6">inv</tspan></text>
</svg>
</body>
</html>
